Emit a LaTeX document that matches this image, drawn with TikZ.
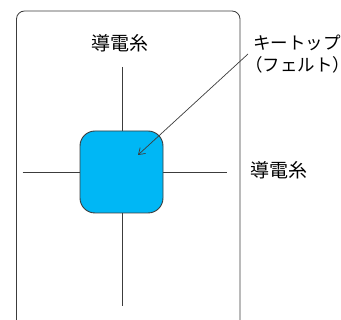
\documentclass[tikz,border=0pt]{standalone}
\usepackage{fontspec}
\usetikzlibrary{arrows.meta}
\newfontfamily\jp{Noto Sans CJK JP}
\definecolor{keyblue}{RGB}{0,183,245}
\definecolor{linegray}{RGB}{60,60,60}
\begin{document}
\begin{tikzpicture}[x=1pt,y=-1pt,
  frame/.style={draw=linegray,line width=0.8pt,rounded corners=8pt},
  wire/.style={draw=linegray,line width=0.9pt},
  keybox/.style={draw=linegray,fill=keyblue,line width=0.9pt,rounded corners=15pt,minimum width=83pt,minimum height=82pt,inner sep=0pt},
  lbl/.style={font=\jp\fontsize{19}{22}\selectfont,inner sep=0pt,align=left},
  kana/.style={font=\jp\fontsize{17.5}{21}\selectfont,inner sep=0pt,align=left}]
\useasboundingbox (0,0) rectangle (341,320);
\draw[frame] (16.5,11) rectangle (240,330);
\coordinate (vt) at (122.3,67);
\coordinate (vb) at (122.3,306);
\coordinate (hl) at (22.7,172.3);
\coordinate (hr) at (227.3,172.3);
\draw[wire] (vt) -- (vb);
\draw[wire] (hl) -- (hr);
\node[keybox] (key) at (121.5,172) {};
\coordinate (tip) at (138,155);
\coordinate (start) at (248,54);
\node[lbl] (top) at (120.3,43) {導電糸};
\node[lbl,anchor=west] (side) at (250.5,170) {導電糸};
\node[kana,anchor=west] (kt1) at (253,43) {キートップ};
\node[kana,anchor=west] (kt2) at (245,65) {（フェルト）};
\draw[wire,line width=0.7pt,-{Straight Barb[length=6pt,width=8pt]}] (start) -- (tip);
\end{tikzpicture}
\end{document}
